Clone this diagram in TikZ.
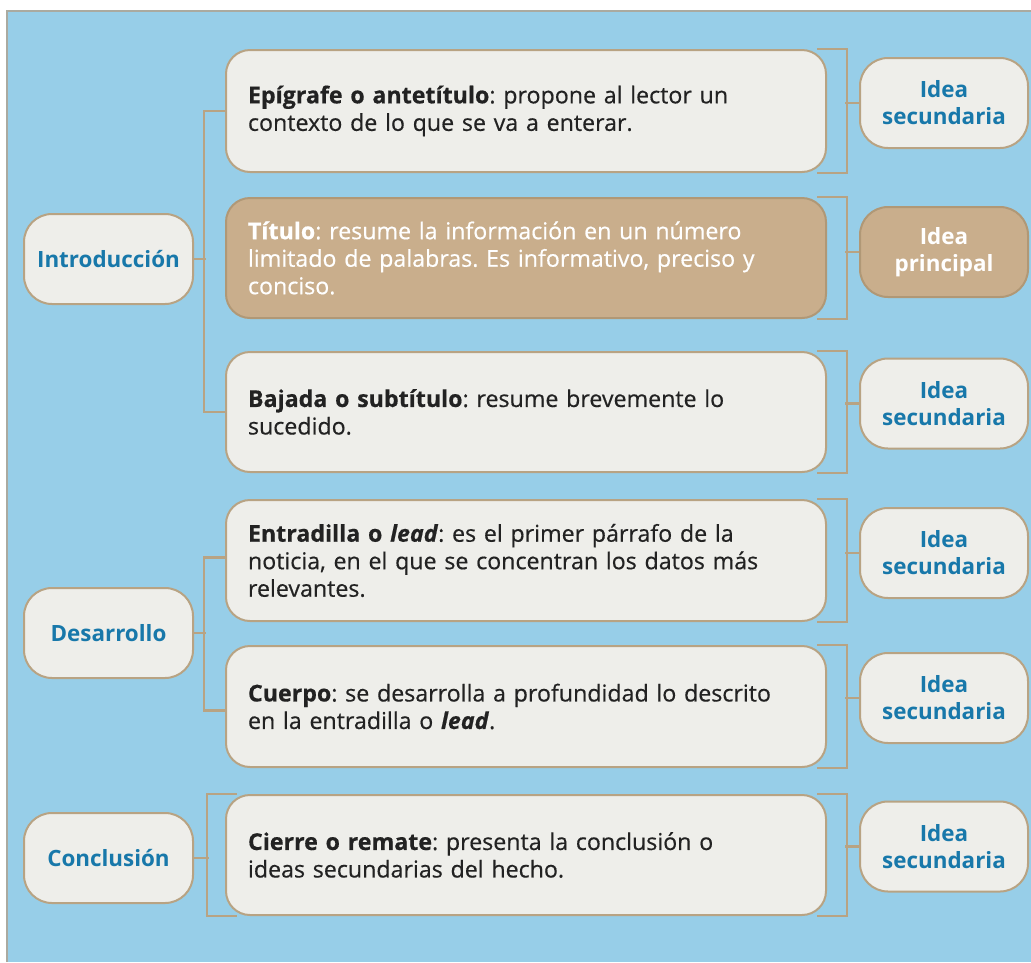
\documentclass[tikz,border=0pt]{standalone}
\usepackage{fontspec}
\setmainfont{Open Sans}
\usetikzlibrary{calc}
\definecolor{panelblue}{RGB}{151,206,232}
\definecolor{panelline}{RGB}{170,170,160}
\definecolor{boxfill}{RGB}{238,238,234}
\definecolor{tanline}{RGB}{184,163,131}
\definecolor{tanfill}{RGB}{201,174,140}
\definecolor{tandark}{RGB}{176,152,118}
\definecolor{labelblue}{RGB}{24,120,170}
\definecolor{darktext}{RGB}{34,34,34}
\pgfdeclarelayer{back}
\pgfdeclarelayer{lines}
\pgfsetlayers{back,lines,main}
\frenchspacing
\begin{document}
\begin{tikzpicture}[x=1pt,y=-1pt,
  textbox/.style={draw=tanline, line width=2pt, fill=boxfill, rounded corners=24pt,
    minimum width=600pt, minimum height=120pt, text width=556pt, inner xsep=22pt,
    align=left, text=darktext, font=\fontsize{23.2}{27.5}\selectfont\addfontfeature{FakeBold=0.5}},
  mainbox/.style={textbox, fill=tanfill, draw=tandark, text=white},
  sidebox/.style={draw=tanline, line width=2pt, fill=boxfill, rounded corners=28pt,
    minimum width=169pt, minimum height=90pt, inner sep=0pt, text=labelblue,
    font=\bfseries\fontsize{22.4}{27}\selectfont, align=center},
  ideabox/.style={sidebox, minimum width=168pt},
  ideamain/.style={ideabox, fill=tanfill, draw=tandark, text=white},
  bracket/.style={draw=tanline, line width=2.8pt}
]
\useasboundingbox (0,0) rectangle (1031,962);
\begin{pgfonlayer}{back}
  \fill[white] (0,0) rectangle (1031,962);
  \fill[panelblue] (7,11) rectangle (1031,962);
  \draw[panelline, line width=1.2pt] (7,962) -- (7,11) -- (1031,11);
\end{pgfonlayer}

% left nodes
\node[sidebox] (intro) at (108.5,259) {Introducción};
\node[sidebox] (des) at (108.5,633) {Desarrollo};
\node[sidebox] (con) at (108.5,858) {Conclusión};

% text boxes
\node[textbox, minimum height=122pt] (b1) at (526,111)
  {\textbf{Epígrafe o antetítulo}: propone al lector un\\contexto de lo que se va a enterar.};
\node[mainbox] (b2) at (526,258)
  {\textbf{Título}: resume la información en un número\\limitado de palabras. Es informativo, preciso y\\conciso.};
\node[textbox] (b3) at (526,412)
  {\textbf{Bajada o subtítulo}: resume brevemente lo\\sucedido.};
\node[textbox, minimum height=121pt] (b4) at (526,560.5)
  {\textbf{Entradilla o \textit{lead}}: es el primer párrafo de la\\noticia, en el que se concentran los datos más\\relevantes.};
\node[textbox, minimum height=121pt] (b5) at (526,706.5)
  {\textbf{Cuerpo}: se desarrolla a profundidad lo descrito\\en la entradilla o \textbf{\textit{lead}}.};
\node[textbox] (b6) at (526,855)
  {\textbf{Cierre o remate}: presenta la conclusión o\\ideas secundarias del hecho.};

% idea boxes
\node[ideabox] (i1) at (944,103) {Idea\\secundaria};
\node[ideamain] (i2) at (944,252) {Idea\\principal};
\node[ideabox] (i3) at (944,403.5) {Idea\\secundaria};
\node[ideabox] (i4) at (944,553) {Idea\\secundaria};
\node[ideabox] (i5) at (944,698) {Idea\\secundaria};
\node[ideabox] (i6) at (944,846.5) {Idea\\secundaria};

\begin{pgfonlayer}{lines}
  % left brackets
  \draw[bracket] (b1.west) -- ++(-21,0) |- (b3.west);
  \draw[bracket] (intro.east) -- ++(12,0);
  \draw[bracket] ([yshift=3pt]b4.west) -- ++(-21,0) |- ([yshift=-4pt]b5.west);
  \draw[bracket] (des.east) -- ++(12,0);
  \draw[bracket] ([xshift=12pt]b6.north west) -- ++(-30,0) |- ([xshift=12pt]b6.south west);
  \draw[bracket] (con.east) -- ++(15,0);
  % right brackets
  \foreach \b/\i in {b1/i1,b2/i2,b3/i3,b4/i4,b5/i5,b6/i6}{
    \draw[bracket] ([xshift=-10pt]\b.north east) -- ++(30,0) |- ([xshift=-10pt]\b.south east);
    \draw[bracket] (\i.west) -- ++(-14,0);
  }
\end{pgfonlayer}
\end{tikzpicture}
\end{document}
